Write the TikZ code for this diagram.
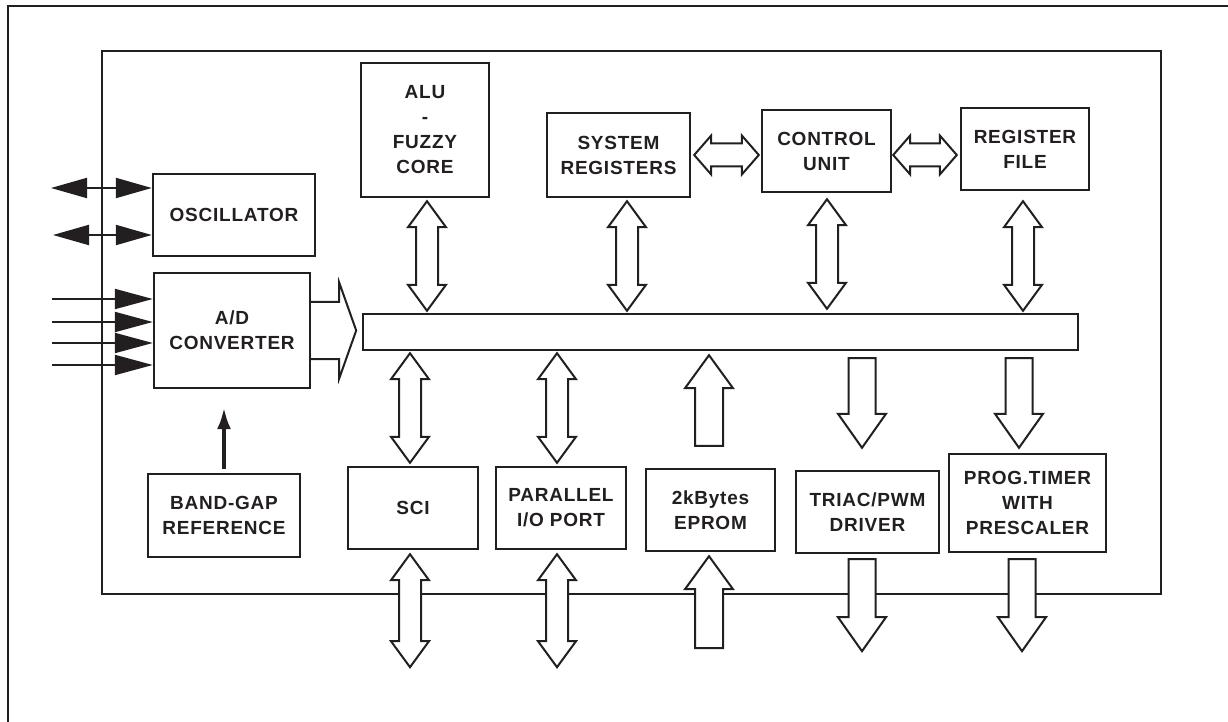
\documentclass[tikz,border=0pt]{standalone}
\usepackage{fontspec}
\setmainfont[LetterSpace=4]{Liberation Sans}
\usetikzlibrary{arrows.meta,calc}
\definecolor{ink}{RGB}{35,31,32}
\newcommand\vdbl[2]{\draw[hollow] let \p1=#1, \p2=#2 in
 (\x1,\y1) -- (\x1+9.5pt,\y1-13pt) -- (\x1+5.5pt,\y1-13pt) -- (\x1+5.5pt,\y2+13pt) -- (\x1+9.5pt,\y2+13pt) -- (\x1,\y2)
 -- (\x1-9.5pt,\y2+13pt) -- (\x1-5.5pt,\y2+13pt) -- (\x1-5.5pt,\y1-13pt) -- (\x1-9.5pt,\y1-13pt) -- cycle;}
\newcommand\hdbl[2]{\draw[hollow] let \p1=#1, \p2=#2 in
 (\x1,\y1) -- (\x1+8.5pt,\y1+9.75pt) -- (\x1+8.5pt,\y1+5.75pt) -- (\x2-8.5pt,\y1+5.75pt) -- (\x2-8.5pt,\y1+9.75pt) -- (\x2,\y1)
 -- (\x2-8.5pt,\y1-9.75pt) -- (\x2-8.5pt,\y1-5.75pt) -- (\x1+8.5pt,\y1-5.75pt) -- (\x1+8.5pt,\y1-9.75pt) -- cycle;}
\newcommand\downarr[2]{\draw[hollow] let \p1=#1, \p2=#2 in
 (\x1-6.75pt,\y1) -- (\x1+6.75pt,\y1) -- (\x1+6.75pt,\y2+17pt) -- (\x1+12pt,\y2+17pt) -- (\x1,\y2)
 -- (\x1-12pt,\y2+17pt) -- (\x1-6.75pt,\y2+17pt) -- cycle;}
\newcommand\uparr[2]{\draw[hollow] let \p1=#1, \p2=#2 in
 (\x1-7pt,\y1) -- (\x1+7pt,\y1) -- (\x1+7pt,\y2-16.5pt) -- (\x1+12pt,\y2-16.5pt) -- (\x1,\y2)
 -- (\x1-12pt,\y2-16.5pt) -- (\x1-7pt,\y2-16.5pt) -- cycle;}
\begin{document}
\begin{tikzpicture}[x=0.5pt,y=-0.5pt,
 box/.style={draw=ink,text=ink,line width=1.2pt,inner sep=0pt,align=center,
   font=\bfseries\fontsize{9.5}{12.5}\selectfont},
 hollow/.style={draw=ink,fill=white,line width=1pt,line join=miter},
 frame/.style={draw=ink,line width=1.3pt},
 sig/.style={draw=ink,line width=1pt,{Triangle[length=18pt,width=10pt]}-{Triangle[length=18pt,width=10pt]}},
 inp/.style={draw=ink,line width=1pt,-{Triangle[length=19pt,width=10pt]}},
 ref/.style={draw=ink,line width=2pt,-{Latex[length=11pt,width=7pt]}}]
\useasboundingbox (0,0) rectangle (1228,722);
% outer frame (cropped on right and bottom)
\draw[frame] (8,730) -- (8,6) -- (1236,6);
% chip boundary
\node[frame,inner sep=0pt,minimum width=1059*0.5pt,minimum height=543*0.5pt] (chip) at (631.5,322.5) {};
% blocks
\node[box,minimum width=162*0.5pt,minimum height=82*0.5pt] (osc) at (234,215) {OSCILLATOR};
\node[box,minimum width=156*0.5pt,minimum height=115*0.5pt] (adc) at (232,330.5) {A/D\\CONVERTER};
\node[box,minimum width=128*0.5pt,minimum height=134*0.5pt] (alu) at (425,130) {ALU\\-\\FUZZY\\CORE};
\node[box,minimum width=143*0.5pt,minimum height=84*0.5pt] (sys) at (618.5,155) {SYSTEM\\REGISTERS};
\node[box,minimum width=129*0.5pt,minimum height=82*0.5pt] (ctl) at (826.5,151) {CONTROL\\UNIT};
\node[box,minimum width=128*0.5pt,minimum height=82*0.5pt] (reg) at (1025,149) {REGISTER\\FILE};
\node[box,minimum width=152*0.5pt,minimum height=83*0.5pt] (bg) at (224,515.5) {BAND-GAP\\REFERENCE};
\node[box,minimum width=130*0.5pt,minimum height=82*0.5pt] (sci) at (413,508) {SCI};
\node[box,minimum width=130*0.5pt,minimum height=82*0.5pt] (par) at (561,508) {PARALLEL\\I/O PORT};
\node[box,minimum width=129*0.5pt,minimum height=82*0.5pt] (eprom) at (710.5,510) {2kBytes\\EPROM};
\node[box,minimum width=143*0.5pt,minimum height=82*0.5pt] (triac) at (867.5,512) {TRIAC/PWM\\DRIVER};
\node[box,minimum width=157*0.5pt,minimum height=98*0.5pt] (timer) at (1027.5,503) {PROG.TIMER\\WITH\\PRESCALER};
\node[box,minimum width=715*0.5pt,minimum height=36*0.5pt] (bus) at (720.5,332) {};
% left signal arrows
\coordinate (o1) at (51,188);
\coordinate (o2) at (53,235);
\draw[sig] (o1) -- (o1 -| osc.west);
\draw[sig] (o2) -- (o2 -| osc.west);
\foreach \yy [count=\i] in {299,322,343,365} {
  \coordinate (in\i) at (52,\yy);
  \draw[inp] (in\i) -- (in\i -| adc.west);
}
% reference arrow
\draw[ref] ($(bg.north)+(0,-4)$) -- ($(bg.north |- adc.south)+(0,18)$);
% A/D to bus
\draw[hollow] let \p1=(adc.east) in (\x1,\y1+14.25pt) -- (\x1+14pt,\y1+14.25pt) -- (\x1+14pt,\y1+24pt)
  -- (\x1+22.5pt,\y1) -- (\x1+14pt,\y1-24pt) -- (\x1+14pt,\y1-14.25pt) -- (\x1,\y1-14.25pt);
% top bus arrows
\vdbl{($(alu.south)+(2,3)$)}{($(alu.south |- bus.north)+(2,-2)$)}
\vdbl{($(sys.south)+(8.5,3)$)}{($(sys.south |- bus.north)+(8.5,-2)$)}
\vdbl{($(ctl.south)+(0.5,6)$)}{($(ctl.south |- bus.north)+(0.5,-4)$)}
\vdbl{($(reg.south)+(-2,10)$)}{($(reg.south |- bus.north)+(-2,-2)$)}
\hdbl{($(sys.east)+(3,0)$)}{($(ctl.west)+(-2,0)$)}
\hdbl{($(ctl.east)+(1,4)$)}{($(reg.west)+(-3,0)$)}
% bottom bus arrows
\vdbl{($(sci.north |- bus.south)+(-3,2)$)}{($(sci.north)+(-3,-3)$)}
\vdbl{($(sci.south)+(-3,4)$)}{($(sci.south)+(-3,117)$)}
\vdbl{($(par.north |- bus.south)+(-4,2)$)}{($(par.north)+(-4,-3)$)}
\vdbl{($(par.south)+(-4,4)$)}{($(par.south)+(-4,117)$)}
\uparr{($(eprom.north)+(-1.5,-22)$)}{($(eprom.north |- bus.south)+(-1.5,4)$)}
\uparr{($(eprom.south)+(-1.5,96)$)}{($(eprom.south)+(-1.5,4)$)}
\downarr{($(triac.north |- bus.south)+(-5.5,7)$)}{($(triac.north)+(-5.5,-22)$)}
\downarr{($(triac.south)+(-5.5,5)$)}{($(triac.south)+(-5.5,97)$)}
\downarr{($(timer.north |- bus.south)+(-8.5,7)$)}{($(timer.north)+(-8.5,-5)$)}
\downarr{($(timer.south)+(-5.5,6)$)}{($(timer.south)+(-5.5,98)$)}
\end{tikzpicture}
\end{document}
